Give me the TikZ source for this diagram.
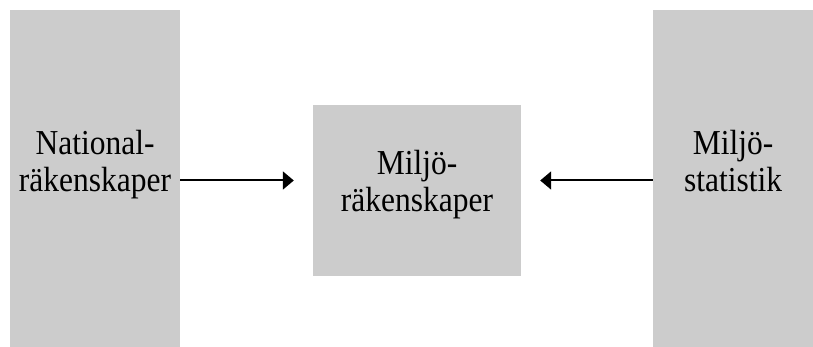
\documentclass[tikz,border=0pt]{standalone}
\usepackage{fontspec}
\setmainfont{Liberation Serif}[FakeStretch=0.9]
\usetikzlibrary{arrows.meta}

\tikzset{
  box/.style={fill=black!20, inner sep=0pt, align=center,
    font=\fontsize{35}{37}\selectfont},
  link/.style={line width=2pt, -{Triangle[length=11pt, width=18pt]}}
}

\begin{document}
\begin{tikzpicture}[x=1pt, y=-1pt]
      \useasboundingbox (0,0) rectangle (813,347);
      % the three accounts
      \node[box, minimum width=170pt, minimum height=337pt, text depth=36pt] (nat) at (95,178.5) {National-\\räkenskaper};
      \node[box, minimum width=208pt, minimum height=171pt, text depth=20pt] (env) at (417,190.5) {Miljö-\\räkenskaper};
      \node[box, minimum width=160pt, minimum height=337pt, text depth=36pt] (stat) at (733,178.5) {Miljö-\\statistik};
      % flows into the middle
      \coordinate (a) at ([yshift=-2pt]nat.east);
      \coordinate (b) at ([yshift=-2pt]stat.west);
      \draw[link, shorten >=19pt] (a) -- (a -| env.west);
      \draw[link, shorten >=19pt] (b) -- (b -| env.east);
\end{tikzpicture}
\end{document}
